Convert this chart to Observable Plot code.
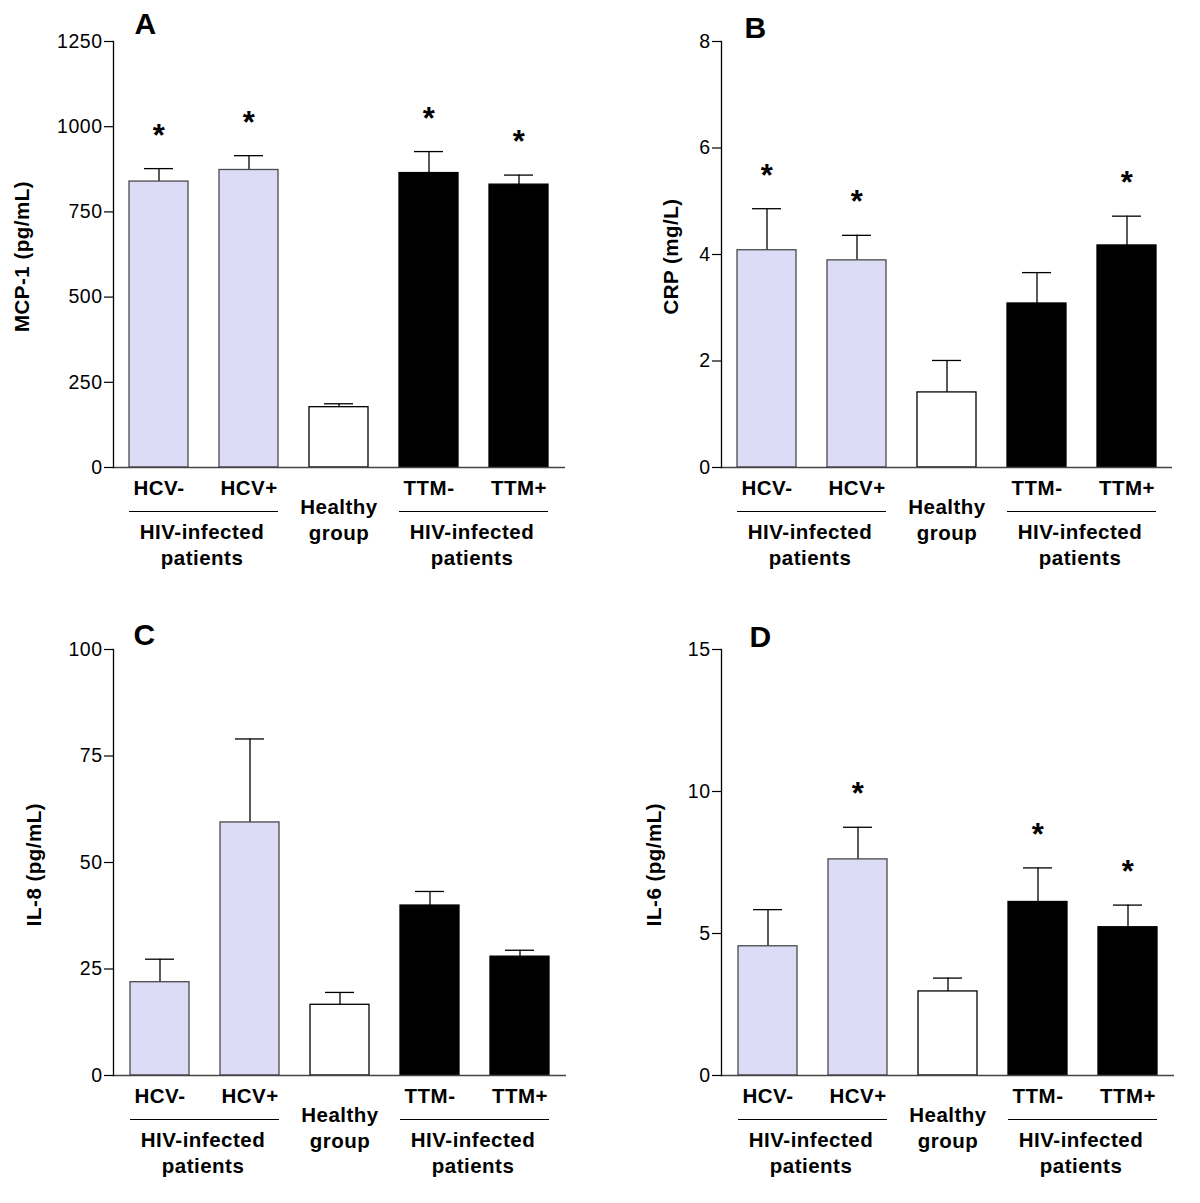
<!DOCTYPE html>
<html><head><meta charset="utf-8">
<script src="https://cdn.jsdelivr.net/npm/d3@7"></script>
<script src="https://cdn.jsdelivr.net/npm/@observablehq/plot@0.6"></script>
<style>
html,body{margin:0;padding:0;background:#fff;}
#wrap{position:relative;width:1200px;height:1203px;background:#fff;overflow:hidden;}
.panel{position:absolute;}
.panel svg text{letter-spacing:0.5px;}
</style></head><body><div id="wrap"></div>
<script>
const categories = ["HCV-","HCV+","Healthy","TTM-","TTM+"];
const categoryLabels = ["HCV-","HCV+","Healthy\ngroup","TTM-","TTM+"];
const groupOf = ["hcv","hcv","healthy","ttm","ttm"];
const patientGroups = [
  {from:"HCV-", to:"HCV+", label:"HIV-infected\npatients"},
  {from:"TTM-", to:"TTM+", label:"HIV-infected\npatients"}
];

const mcp1Mean = [839, 873, 177, 864, 830];
const mcp1Sem  = [38, 42, 10, 63, 28];
const mcp1Sig  = [true, true, false, true, true];

const crpMean = [4.08, 3.89, 1.41, 3.08, 4.17];
const crpSem  = [0.78, 0.47, 0.60, 0.58, 0.55];
const crpSig  = [true, true, false, false, true];

const il8Mean = [21.9, 59.4, 16.6, 39.9, 27.9];
const il8Sem  = [5.4, 19.6, 2.9, 3.3, 1.5];
const il8Sig  = [false, false, false, false, false];

const il6Mean = [4.55, 7.61, 2.96, 6.11, 5.22];
const il6Sem  = [1.29, 1.13, 0.47, 1.20, 0.78];
const il6Sig  = [false, true, false, true, true];

const panelLetters = ["A","B","C","D"];
const yLabels = ["MCP-1 (pg/mL)","CRP (mg/L)","IL-8 (pg/mL)","IL-6 (pg/mL)"];
const yTicks = [[0,250,500,750,1000,1250],[0,2,4,6,8],[0,25,50,75,100],[0,5,10,15]];

const fillOf = {hcv:"#dcdcf7", healthy:"#ffffff", ttm:"#000000"};
const strokeOf = {hcv:"#4a4a4a", healthy:"#000000", ttm:"#000000"};

const layouts = [
  {left:0,   top:0,   h:600, ml:113, mr:35, mt:41, mb:133, ylDx:-91, lDx:32, lDy:-17},
  {left:600, top:0,   h:600, ml:121, mr:28, mt:41, mb:133, ylDx:-50, lDx:34, lDy:-13},
  {left:0,   top:600, h:603, ml:113, mr:34, mt:49, mb:128, ylDx:-79, lDx:31, lDy:-14},
  {left:600, top:600, h:603, ml:121, mr:26, mt:49, mb:128, ylDx:-67, lDx:39, lDy:-12}
];
const series = [
  [mcp1Mean, mcp1Sem, mcp1Sig],
  [crpMean, crpSem, crpSig],
  [il8Mean, il8Sem, il8Sig],
  [il6Mean, il6Sem, il6Sig]
];

const wrap = document.getElementById("wrap");
const FONT = "Liberation Sans, Arial, sans-serif";
const LBL = 20.5;

series.forEach(([mean, sem, sig], k) => {
  const L = layouts[k];
  const ticks = yTicks[k];
  const data = categories.map((c, i) => ({
    cat: c, label: categoryLabels[i], mean: mean[i], sem: sem[i],
    top: mean[i] + sem[i], sig: sig[i], grp: groupOf[i]
  }));
  const svg = Plot.plot({
    width: 600, height: L.h,
    marginLeft: L.ml, marginRight: L.mr, marginTop: L.mt, marginBottom: L.mb,
    style: {fontFamily: FONT, background: "transparent", color: "black", overflow: "visible"},
    x: {type: "band", domain: categories, paddingInner: 0.34, paddingOuter: 0.17, axis: null},
    y: {domain: [ticks[0], ticks[ticks.length - 1]]},
    color: {type: "identity"},
    marks: [
      Plot.ruleX(data, {x: "cat", y1: "mean", y2: "top", stroke: "black", strokeWidth: 1.3}),
      Plot.tickY(data, {x: "cat", y: "top", insetLeft: 15, insetRight: 15, stroke: "black", strokeWidth: 1.3}),
      Plot.barY(data, {x: "cat", y: "mean", fill: d => fillOf[d.grp], stroke: d => strokeOf[d.grp], strokeWidth: 1.3}),
      Plot.ruleY([0], {stroke: "#444", strokeWidth: 1.3}),
      Plot.frame({anchor: "left", stroke: "black", strokeWidth: 1.3}),
      Plot.axisY({ticks: ticks, tickFormat: d3.format("d"), tickSize: 9, tickPadding: 2, fontSize: 19.5, label: null, strokeWidth: 1.2}),
      Plot.text([yLabels[k]], {frameAnchor: "left", text: d => d, rotate: -90, dx: L.ylDx, dy: 2,
        textAnchor: "middle", lineAnchor: "middle", fontSize: LBL, fontWeight: "bold"}),
      Plot.text([panelLetters[k]], {frameAnchor: "top-left", text: d => d, dx: L.lDx, dy: L.lDy,
        textAnchor: "middle", lineAnchor: "middle", fontSize: 30, fontWeight: "bold"}),
      Plot.text(data.filter(d => d.sig), {x: "cat", y: "top", text: () => "*", dy: -33,
        fontSize: 31, fontWeight: "bold", lineAnchor: "middle"}),
      Plot.text(data.filter(d => !d.label.includes("\n")), {x: "cat", text: "label", frameAnchor: "bottom",
        dy: 21, textAnchor: "middle", lineAnchor: "middle", fontSize: LBL, fontWeight: "bold"}),
      Plot.text(data.filter(d => d.label.includes("\n")), {x: "cat", text: "label", frameAnchor: "bottom",
        dy: 51, textAnchor: "middle", lineAnchor: "middle", lineHeight: 1.3, fontSize: LBL, fontWeight: "bold"}),
      Plot.ruleY(patientGroups, {x1: "from", x2: "to", y: () => 0, dy: 44, stroke: "black", strokeWidth: 1}),
      Plot.text(patientGroups, {x: "from", text: "label", frameAnchor: "bottom", dx: 43, dy: 76,
        textAnchor: "middle", lineAnchor: "middle", lineHeight: 1.3, fontSize: LBL, fontWeight: "bold"})
    ]
  });
  const div = document.createElement("div");
  div.className = "panel";
  div.style.left = L.left + "px";
  div.style.top = L.top + "px";
  div.appendChild(svg);
  wrap.appendChild(div);
});
</script>
</body></html>
